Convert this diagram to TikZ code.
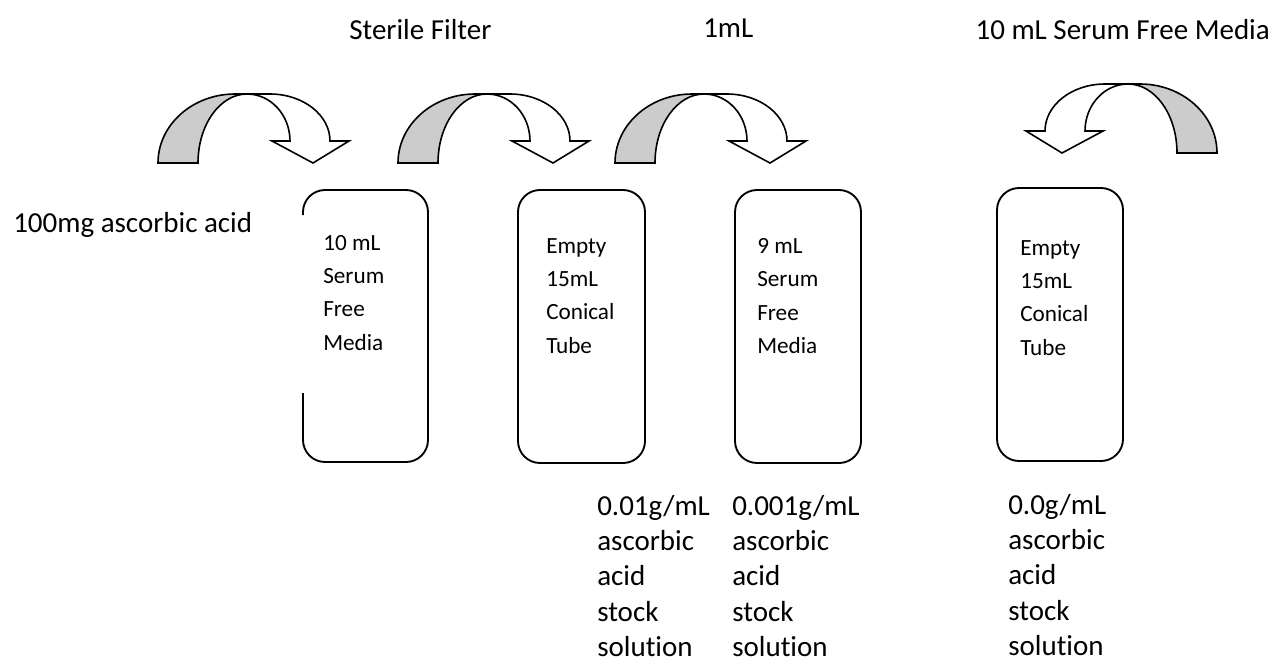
\documentclass[tikz,border=0pt]{standalone}
\usepackage{fontspec}
\setmainfont{Carlito}[Ligatures=NoCommon]

\tikzset{
  bigtext/.style={inner sep=0pt, anchor=north west, align=left, font=\fontsize{21.75}{26.4}\selectfont},
  tubetext/.style={inner sep=0pt, anchor=north west, align=left, font=\fontsize{17.4}{25}\selectfont},
  tube/.style={line width=1.4pt, rounded corners=16.5pt},
  curvarrow/.pic={
    % grey back of the arrow
    \draw[line width=1.2pt, fill=black!20] (0,0) arc[start angle=180, end angle=90, x radius=77, y radius=69]
      -- (89,69) arc[start angle=90, end angle=180, x radius=49, y radius=69] -- cycle;
    % white front with the head
    \draw[line width=1.2pt, fill=white] (89,69) -- (112,69) arc[start angle=90, end angle=0, x radius=60, y radius=47]
      -- (191,22) -- (155,0) -- (114,22) -- (132,22)
      arc[start angle=0, end angle=90, x radius=43, y radius=47] -- cycle;
  }
}

\begin{document}
\begin{tikzpicture}[x=0.75pt, y=0.75pt]
  \useasboundingbox (0,0) rectangle (1277,-662);

  % labels over the arrows
  \node[bigtext] (filter) at (349,-19) {Sterile Filter};
  \node[bigtext] (onemL) at (703,-19) {1mL};
  \node[bigtext, anchor=north east] (media) at (1270,-19) {10 mL Serum Free Media};
  \node[bigtext] (acid) at (13,-212) {100mg ascorbic acid};

  % curved arrows
  \pic at (158,-163) {curvarrow};
  \pic at (398,-163) {curvarrow};
  \pic at (615,-163) {curvarrow};
  \pic[xscale=-1] at (1217,-153) {curvarrow};

  % tubes
  \draw[tube] (303,-393) -- (303,-462) -- (428,-462) -- (428,-190) -- (303,-190) -- (303,-215);
  \draw[tube] (518,-190) rectangle (645,-463);
  \draw[tube] (735,-190) rectangle (861,-463);
  \draw[tube] (997,-188) rectangle (1123,-461);

  \node[tubetext] (tubeA) at (323,-235) {10 mL\\Serum\\Free\\Media};
  \node[tubetext] (tubeB) at (546,-238) {Empty\\15mL\\Conical\\Tube};
  \node[tubetext] (tubeC) at (757,-238) {9 mL\\Serum\\Free\\Media};
  \node[tubetext] (tubeD) at (1020,-240) {Empty\\15mL\\Conical\\Tube};

  % stock solutions
  \node[bigtext] (stockA) at (597,-495) {0.01g/mL\\ascorbic\\acid\\stock\\solution};
  \node[bigtext] (stockB) at (732,-495) {0.001g/mL\\ascorbic\\acid\\stock\\solution};
  \node[bigtext] (stockC) at (1008,-494) {0.0g/mL\\ascorbic\\acid\\stock\\solution};
\end{tikzpicture}
\end{document}
